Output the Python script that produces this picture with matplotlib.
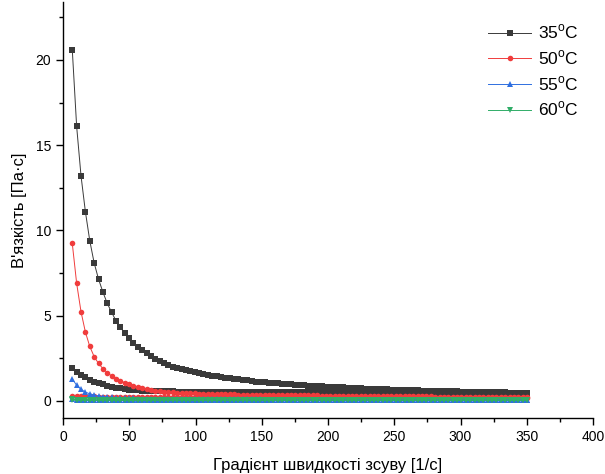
import matplotlib
matplotlib.use('Agg')
import matplotlib.pyplot as plt
from matplotlib.ticker import MultipleLocator

plt.rcParams['font.family'] = ['Liberation Sans', 'DejaVu Sans']
plt.rcParams['mathtext.fontset'] = 'custom'
plt.rcParams['mathtext.rm'] = 'Liberation Sans'

#shear rate points (same for every temperature)
shear_rate = [7.0, 10.3, 13.6, 16.9, 20.2, 23.5, 26.8, 30.1, 33.4, 36.7,
              40.0, 43.3, 46.6, 49.9, 53.2, 56.5, 59.8, 63.1, 66.4, 69.7,
              73.0, 76.3, 79.6, 82.9, 86.2, 89.5, 92.8, 96.1, 99.4, 102.7,
              106.0, 109.3, 112.6, 115.9, 119.2, 122.5, 125.8, 129.1, 132.4, 135.7,
              139.0, 142.3, 145.6, 148.9, 152.2, 155.5, 158.8, 162.1, 165.4, 168.7,
              172.0, 175.3, 178.6, 181.9, 185.2, 188.5, 191.8, 195.1, 198.4, 201.7,
              205.0, 208.3, 211.6, 214.9, 218.2, 221.5, 224.8, 228.1, 231.4, 234.7,
              238.0, 241.3, 244.6, 247.9, 251.2, 254.5, 257.8, 261.1, 264.4, 267.7,
              271.0, 274.3, 277.6, 280.9, 284.2, 287.5, 290.8, 294.1, 297.4, 300.7,
              304.0, 307.3, 310.6, 313.9, 317.2, 320.5, 323.8, 327.1, 330.4, 333.7,
              337.0, 340.3, 343.6, 346.9, 350.2]

#viscosity, ramp up
visc_35_up = [20.6, 16.1, 13.2, 11.1, 9.4, 8.1, 7.15, 6.39, 5.72, 5.2,
              4.7, 4.32, 3.97, 3.68, 3.42, 3.19, 2.98, 2.79, 2.63, 2.48,
              2.35, 2.22, 2.11, 2.01, 1.93, 1.86, 1.79, 1.73, 1.67, 1.62,
              1.57, 1.52, 1.48, 1.44, 1.40, 1.36, 1.32, 1.29, 1.26, 1.23,
              1.20, 1.17, 1.14, 1.12, 1.09, 1.07, 1.05, 1.03, 1.01, 0.99,
              0.97, 0.95, 0.93, 0.92, 0.90, 0.88, 0.87, 0.85, 0.84, 0.83,
              0.81, 0.80, 0.79, 0.77, 0.76, 0.75, 0.74, 0.73, 0.72, 0.71,
              0.70, 0.69, 0.68, 0.67, 0.66, 0.65, 0.645, 0.64, 0.63, 0.62,
              0.61, 0.605, 0.60, 0.59, 0.585, 0.58, 0.57, 0.565, 0.56, 0.55,
              0.545, 0.54, 0.535, 0.53, 0.525, 0.52, 0.51, 0.505, 0.50, 0.50,
              0.49, 0.49, 0.48, 0.48, 0.47]
visc_50_up = [9.24, 6.9, 5.23, 4.04, 3.2, 2.6, 2.2, 1.9, 1.66, 1.47,
              1.31, 1.18, 1.07, 0.97, 0.88, 0.80, 0.74, 0.68, 0.64, 0.60,
              0.57, 0.54, 0.52, 0.50, 0.48, 0.47, 0.46, 0.45, 0.44, 0.43,
              0.42, 0.415, 0.41, 0.40, 0.395, 0.39, 0.385, 0.38, 0.375, 0.37,
              0.365, 0.36, 0.36, 0.355, 0.35, 0.35, 0.345, 0.34, 0.34, 0.335,
              0.335, 0.33, 0.33, 0.325, 0.325, 0.32, 0.32, 0.315, 0.315, 0.31,
              0.31, 0.305, 0.305, 0.30, 0.30, 0.30, 0.295, 0.295, 0.29, 0.29,
              0.29, 0.285, 0.285, 0.28, 0.28, 0.28, 0.275, 0.275, 0.27, 0.27,
              0.27, 0.265, 0.265, 0.26, 0.26, 0.26, 0.255, 0.255, 0.25, 0.25,
              0.25, 0.245, 0.245, 0.24, 0.24, 0.24, 0.235, 0.235, 0.23, 0.23,
              0.23, 0.225, 0.225, 0.22, 0.22]
visc_55_up = [1.29, 0.92, 0.68, 0.52, 0.42, 0.35, 0.30, 0.26, 0.23, 0.21,
              0.19, 0.175, 0.165, 0.155, 0.145, 0.14, 0.135, 0.13, 0.125, 0.12,
              0.12, 0.115, 0.115, 0.11, 0.11, 0.105, 0.105, 0.10, 0.10, 0.10,
              0.10, 0.10, 0.095, 0.095, 0.095, 0.095, 0.095, 0.09, 0.09, 0.09,
              0.09, 0.09, 0.09, 0.09, 0.085, 0.085, 0.085, 0.085, 0.085, 0.085,
              0.085, 0.085, 0.08, 0.08, 0.08, 0.08, 0.08, 0.08, 0.08, 0.08,
              0.08, 0.08, 0.08, 0.08, 0.075, 0.075, 0.075, 0.075, 0.075, 0.075,
              0.075, 0.075, 0.075, 0.075, 0.075, 0.075, 0.075, 0.075, 0.075, 0.075,
              0.07, 0.07, 0.07, 0.07, 0.07, 0.07, 0.07, 0.07, 0.07, 0.07,
              0.07, 0.07, 0.07, 0.07, 0.07, 0.07, 0.07, 0.07, 0.07, 0.07,
              0.07, 0.07, 0.07, 0.07, 0.07]
visc_60_up = [0.10, 0.085, 0.075, 0.07, 0.065, 0.06, 0.06, 0.055, 0.055, 0.055,
              0.05, 0.05, 0.05, 0.05, 0.05, 0.05, 0.05, 0.05, 0.05, 0.05,
              0.05, 0.05, 0.05, 0.05, 0.05, 0.045, 0.045, 0.045, 0.045, 0.045,
              0.045, 0.045, 0.045, 0.045, 0.045, 0.045, 0.045, 0.045, 0.045, 0.045,
              0.045, 0.045, 0.045, 0.045, 0.045, 0.045, 0.045, 0.045, 0.045, 0.045,
              0.04, 0.04, 0.04, 0.04, 0.04, 0.04, 0.04, 0.04, 0.04, 0.04,
              0.04, 0.04, 0.04, 0.04, 0.04, 0.04, 0.04, 0.04, 0.04, 0.04,
              0.04, 0.04, 0.04, 0.04, 0.04, 0.04, 0.04, 0.04, 0.04, 0.04,
              0.04, 0.04, 0.04, 0.04, 0.04, 0.04, 0.04, 0.04, 0.04, 0.04,
              0.04, 0.04, 0.04, 0.04, 0.04, 0.04, 0.04, 0.04, 0.04, 0.04,
              0.04, 0.04, 0.04, 0.04, 0.04]

#viscosity, ramp down (listed from low to high shear rate)
visc_35_down = [1.95, 1.70, 1.52, 1.38, 1.25, 1.14, 1.05, 0.97, 0.90, 0.84,
                0.78, 0.74, 0.70, 0.67, 0.65, 0.63, 0.61, 0.60, 0.59, 0.58,
                0.57, 0.565, 0.56, 0.555, 0.55, 0.55, 0.545, 0.545, 0.54, 0.54,
                0.54, 0.535, 0.535, 0.53, 0.53, 0.53, 0.525, 0.525, 0.52, 0.52,
                0.52, 0.52, 0.515, 0.515, 0.515, 0.51, 0.51, 0.51, 0.51, 0.505,
                0.505, 0.505, 0.505, 0.50, 0.50, 0.50, 0.50, 0.50, 0.495, 0.495,
                0.495, 0.495, 0.49, 0.49, 0.49, 0.49, 0.49, 0.485, 0.485, 0.485,
                0.485, 0.485, 0.48, 0.48, 0.48, 0.48, 0.48, 0.48, 0.475, 0.475,
                0.475, 0.475, 0.475, 0.475, 0.47, 0.47, 0.47, 0.47, 0.47, 0.47,
                0.47, 0.47, 0.465, 0.465, 0.465, 0.465, 0.465, 0.465, 0.46, 0.46,
                0.46, 0.46, 0.46, 0.46, 0.46]
visc_50_down = [0.30, 0.29, 0.28, 0.275, 0.27, 0.265, 0.26, 0.26, 0.255, 0.255,
                0.25, 0.25, 0.25, 0.245, 0.245, 0.245, 0.24, 0.24, 0.24, 0.24,
                0.235, 0.235, 0.235, 0.235, 0.23, 0.23, 0.23, 0.23, 0.23, 0.225,
                0.225, 0.225, 0.225, 0.225, 0.22, 0.22, 0.22, 0.22, 0.22, 0.22,
                0.22, 0.215, 0.215, 0.215, 0.215, 0.215, 0.215, 0.215, 0.21, 0.21,
                0.21, 0.21, 0.21, 0.21, 0.21, 0.21, 0.21, 0.21, 0.21, 0.21,
                0.205, 0.205, 0.205, 0.205, 0.205, 0.205, 0.205, 0.205, 0.205, 0.205,
                0.205, 0.205, 0.205, 0.205, 0.205, 0.205, 0.205, 0.205, 0.205, 0.205,
                0.20, 0.20, 0.20, 0.20, 0.20, 0.20, 0.20, 0.20, 0.20, 0.20,
                0.20, 0.20, 0.20, 0.20, 0.20, 0.20, 0.20, 0.20, 0.20, 0.20,
                0.20, 0.20, 0.20, 0.20, 0.20]
visc_55_down = [0.09, 0.085, 0.08, 0.08, 0.075, 0.075, 0.075, 0.07, 0.07, 0.07,
                0.07, 0.07, 0.07, 0.07, 0.07, 0.07, 0.07, 0.065, 0.065, 0.065,
                0.065, 0.065, 0.065, 0.065, 0.065, 0.065, 0.065, 0.065, 0.065, 0.065,
                0.065, 0.065, 0.065, 0.065, 0.065, 0.065, 0.065, 0.065, 0.065, 0.065,
                0.06, 0.06, 0.06, 0.06, 0.06, 0.06, 0.06, 0.06, 0.06, 0.06,
                0.06, 0.06, 0.06, 0.06, 0.06, 0.06, 0.06, 0.06, 0.06, 0.06,
                0.06, 0.06, 0.06, 0.06, 0.06, 0.06, 0.06, 0.06, 0.06, 0.06,
                0.06, 0.06, 0.06, 0.06, 0.06, 0.06, 0.06, 0.06, 0.06, 0.06,
                0.06, 0.06, 0.06, 0.06, 0.06, 0.06, 0.06, 0.06, 0.06, 0.06,
                0.06, 0.06, 0.06, 0.06, 0.06, 0.06, 0.06, 0.06, 0.06, 0.06,
                0.06, 0.06, 0.06, 0.06, 0.06]
visc_60_down = [0.04, 0.04, 0.04, 0.04, 0.035, 0.035, 0.035, 0.035, 0.035, 0.035,
                0.035, 0.035, 0.035, 0.035, 0.035, 0.035, 0.035, 0.035, 0.035, 0.035,
                0.035, 0.035, 0.035, 0.035, 0.035, 0.035, 0.035, 0.035, 0.035, 0.035,
                0.03, 0.03, 0.03, 0.03, 0.03, 0.03, 0.03, 0.03, 0.03, 0.03,
                0.03, 0.03, 0.03, 0.03, 0.03, 0.03, 0.03, 0.03, 0.03, 0.03,
                0.03, 0.03, 0.03, 0.03, 0.03, 0.03, 0.03, 0.03, 0.03, 0.03,
                0.03, 0.03, 0.03, 0.03, 0.03, 0.03, 0.03, 0.03, 0.03, 0.03,
                0.03, 0.03, 0.03, 0.03, 0.03, 0.03, 0.03, 0.03, 0.03, 0.03,
                0.03, 0.03, 0.03, 0.03, 0.03, 0.03, 0.03, 0.03, 0.03, 0.03,
                0.03, 0.03, 0.03, 0.03, 0.03, 0.03, 0.03, 0.03, 0.03, 0.03,
                0.03, 0.03, 0.03, 0.03, 0.03]

labels = ['35$^{\\mathrm{o}}$C', '50$^{\\mathrm{o}}$C', '55$^{\\mathrm{o}}$C', '60$^{\\mathrm{o}}$C']
colors = ['#3a3a3a', '#f03c3c', '#2f6fe0', '#30ad68']
markers = ['s', 'o', '^', 'v']

ups = [visc_35_up, visc_50_up, visc_55_up, visc_60_up]
downs = [visc_35_down, visc_50_down, visc_55_down, visc_60_down]

fig = plt.figure(figsize=(6.05, 4.74), dpi=100)
ax = fig.add_axes([63 / 605, 56 / 474, 530 / 605, 416 / 474])

#up and back down as one line, like Origin draws it
x_loop = shear_rate + shear_rate[::-1]
for up, down, lab, c, m in zip(ups, downs, labels, colors, markers):
    ms = 4.4 if m in ('^', 'v') else 4.0
    ax.plot(x_loop, up + down[::-1], color=c, marker=m, markersize=ms,
            linewidth=0.7, markeredgewidth=0, label=lab)

ax.set_xlim(0, 400)
ax.set_ylim(-1.0, 23.4)
ax.xaxis.set_major_locator(MultipleLocator(50))
ax.xaxis.set_minor_locator(MultipleLocator(25))
ax.yaxis.set_major_locator(MultipleLocator(5))
ax.yaxis.set_minor_locator(MultipleLocator(2.5))
ax.tick_params(which='major', direction='out', length=5, width=1, labelsize=10)
ax.tick_params(which='minor', direction='out', length=3, width=1)
ax.spines['top'].set_visible(False)
ax.spines['right'].set_visible(False)
ax.spines['left'].set_linewidth(1)
ax.spines['bottom'].set_linewidth(1)

ax.set_xlabel('Градієнт швидкості зсуву [1/с]', fontsize=12, labelpad=10)
ax.set_ylabel('В\'язкість [Па·с]', fontsize=12, labelpad=6)

ax.legend(loc='upper left', bbox_to_anchor=(488 / 605, 1 - 23 / 474),
          bbox_transform=fig.transFigure, frameon=False, fontsize=12.5,
          handlelength=2.5, handletextpad=0.4, labelspacing=0.4, borderpad=0,
          borderaxespad=0)

fig.savefig('out.png', dpi=100)
